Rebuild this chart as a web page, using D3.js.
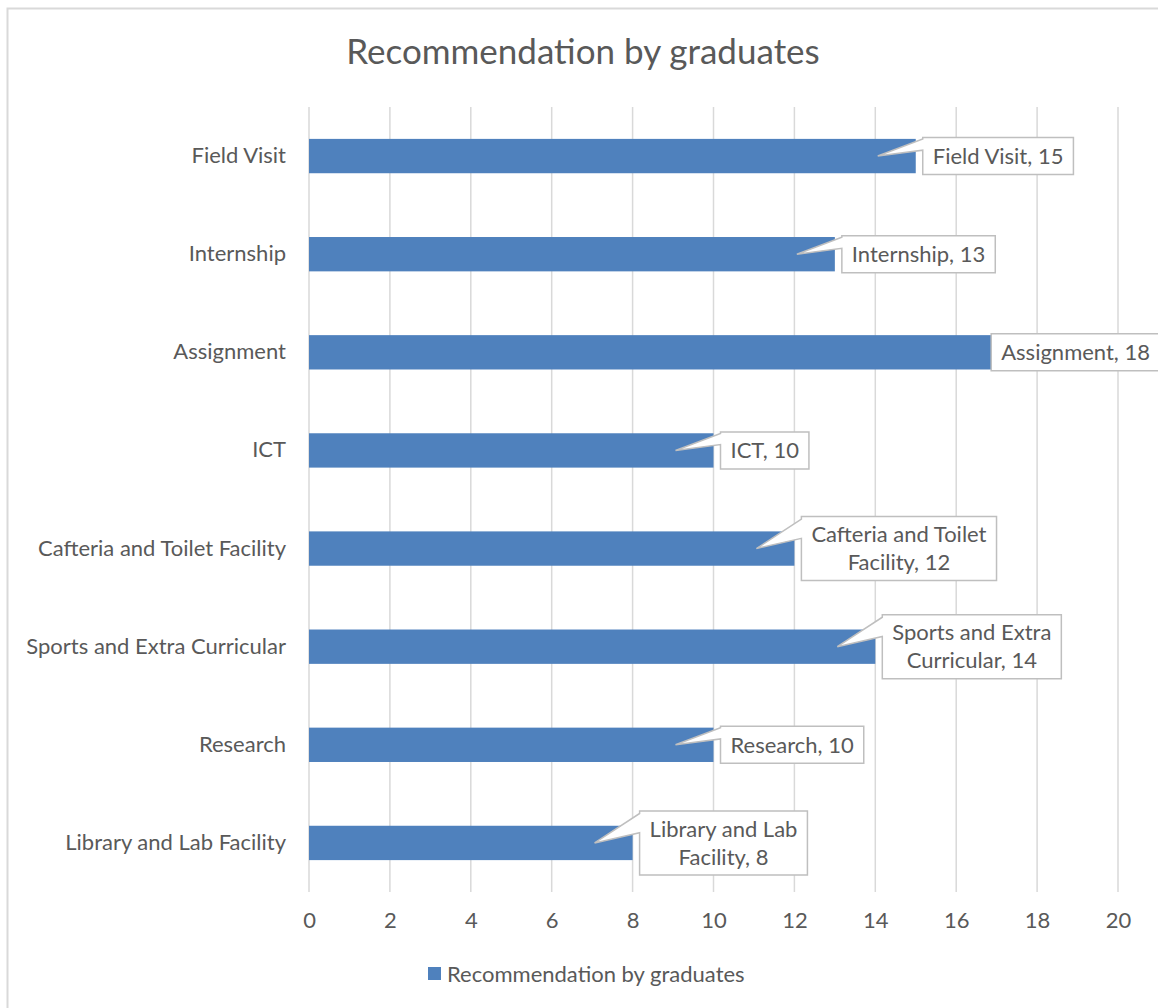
<!DOCTYPE html>
<html>
<head>
<meta charset="utf-8">
<script src="https://cdn.jsdelivr.net/npm/d3@7"></script>
<style>
  html, body { margin: 0; padding: 0; background: #fff; }
  svg { display: block; }
  text { font-family: Lato, "Open Sans", sans-serif; fill: #595959; }
</style>
</head>
<body>
<svg id="chart" width="1158" height="1008"></svg>
<script>
// Categories listed top to bottom, with their counts
const categories = [
  "Field Visit",
  "Internship",
  "Assignment",
  "ICT",
  "Cafteria and Toilet Facility",
  "Sports and Extra Curricular",
  "Research",
  "Library and Lab Facility"
];
const values = [15, 13, 18, 10, 12, 14, 10, 8];
const xTicks = [0, 2, 4, 6, 8, 10, 12, 14, 16, 18, 20];
const seriesName = "Recommendation by graduates";
const chartTitle = "Recommendation by graduates";

const data = categories.map((c, i) => ({ cat: c, val: values[i] }));

const W = 1158, H = 1008;
const margin = { left: 309, right: 40, top: 107, bottom: 116 };
const FS = 22;
const barColor = "#4f81bd";

const svg = d3.select("#chart");

// outer chart frame
svg.append("rect")
  .attr("x", 7.5).attr("y", 8.5)
  .attr("width", W + 20).attr("height", H + 20)
  .attr("fill", "#fff").attr("stroke", "#d9d9d9").attr("stroke-width", 2);

const x = d3.scaleLinear().domain([0, 20]).range([margin.left, 1118]);
const y = d3.scaleBand().domain(categories)
  .range([margin.top, H - margin.bottom]).paddingInner(0.65).paddingOuter(0.325);

// vertical gridlines
svg.append("g").selectAll("line").data(xTicks).join("line")
  .attr("x1", d => x(d)).attr("x2", d => x(d))
  .attr("y1", margin.top).attr("y2", H - margin.bottom)
  .attr("stroke", "#d9d9d9").attr("stroke-width", 1.5);

// x axis labels
const xAxis = d3.axisBottom(x).tickValues(xTicks).tickSize(0).tickPadding(20);
const gx = svg.append("g").attr("transform", `translate(0,${H - margin.bottom})`).call(xAxis);
gx.select(".domain").remove();
gx.selectAll("text").attr("font-size", FS).attr("font-family", "Lato, sans-serif").attr("fill", "#595959");

// category labels
const yAxis = d3.axisLeft(y).tickSize(0).tickPadding(23);
const gy = svg.append("g").attr("transform", `translate(${margin.left},0)`).call(yAxis);
gy.select(".domain").remove();
gy.selectAll("text").attr("font-size", FS).attr("font-family", "Lato, sans-serif").attr("fill", "#595959");

// bars
svg.append("g").selectAll("rect").data(data).join("rect")
  .attr("x", x(0)).attr("y", d => y(d.cat))
  .attr("width", d => x(d.val) - x(0)).attr("height", y.bandwidth())
  .attr("fill", barColor);

// callout data labels
const measure = svg.append("text").attr("font-size", FS).attr("visibility", "hidden");
function textWidth(s) { measure.text(s); return measure.node().getComputedTextLength(); }
function wrap(s, maxW) {
  const words = s.split(" ");
  const lines = [];
  let cur = "";
  words.forEach(w => {
    const t = cur ? cur + " " + w : w;
    if (textWidth(t) > maxW && cur) { lines.push(cur); cur = w; } else cur = t;
  });
  lines.push(cur);
  return lines;
}

const lineH = 28, padX = 10;
const callouts = svg.append("g");
data.forEach(d => {
  const label = `${d.cat}, ${d.val}`;
  const lines = wrap(label, 200);
  const tw = d3.max(lines, textWidth);
  const bw = tw + 2 * padX;
  const bh = lines.length === 1 ? 37 : 64;
  const cy = y(d.cat) + y.bandwidth() / 2;
  // keep the callout inside the chart's right edge
  let x0 = x(d.val) + 7;
  if (x0 + bw > W + 2) x0 = W + 2 - bw;
  const y0 = cy - bh / 2;
  const x1 = x0 + bw, y1 = y0 + bh;
  const tipX = x(d.val) - 38, tipY = cy;
  const b1 = y0 + bh * 0.04, b2 = y0 + bh * 0.34;
  // the pointer is dropped when the box already sits over the tip
  const path = (x0 - tipX > 12)
    ? `M${x0},${y0} L${x1},${y0} L${x1},${y1} L${x0},${y1} L${x0},${b2} L${tipX},${tipY} L${x0},${b1} Z`
    : `M${x0},${y0} L${x1},${y0} L${x1},${y1} L${x0},${y1} Z`;
  callouts.append("path").attr("d", path)
    .attr("fill", "#fff").attr("stroke", "#bfbfbf").attr("stroke-width", 1.5)
    .attr("stroke-linejoin", "miter");
  const g = callouts.append("text").attr("font-size", FS).attr("text-anchor", "middle");
  const startY = cy - (lines.length - 1) * lineH / 2;
  lines.forEach((l, i) => {
    g.append("tspan").attr("x", x0 + bw / 2).attr("y", startY + i * lineH)
      .attr("dy", "0.35em").text(l);
  });
});
measure.remove();

// title
svg.append("text").attr("x", 583).attr("y", 64).attr("text-anchor", "middle")
  .attr("font-size", 35).text(chartTitle);

// legend
const leg = svg.append("g");
leg.append("text").attr("x", 447).attr("y", 974).attr("dy", "0.35em")
  .attr("font-size", FS).text(seriesName);
leg.append("rect").attr("x", 428).attr("y", 967).attr("width", 13).attr("height", 13).attr("fill", barColor);
</script>
</body>
</html>
